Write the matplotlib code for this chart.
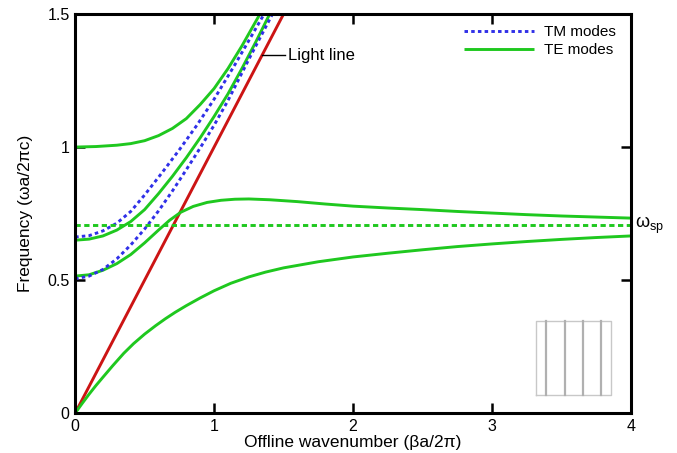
import numpy as np
import matplotlib
matplotlib.use("Agg")
import matplotlib.pyplot as plt

plt.rcParams['font.family'] = ['Liberation Sans', 'DejaVu Sans']
plt.rcParams['mathtext.fontset'] = 'custom'
plt.rcParams['mathtext.rm'] = 'Liberation Sans'
plt.rcParams['mathtext.it'] = 'Liberation Sans:italic'

# dispersion branches, beta in units of 2pi/a, omega in units of 2pi c/a
te1_b = [0, 0.15, 0.3, 0.4, 0.5, 0.6, 0.7, 0.8, 0.9, 1.0, 1.1, 1.2, 1.33]
te1_w = [1.0, 1.002, 1.007, 1.013, 1.024, 1.043, 1.07, 1.107, 1.16, 1.22, 1.295, 1.38, 1.5]

tm1_b = [0, 0.1, 0.2, 0.3, 0.4, 0.5, 0.62, 0.75, 0.88, 1.0, 1.15, 1.36]
tm1_w = [0.662, 0.667, 0.685, 0.714, 0.758, 0.82, 0.9, 0.99, 1.085, 1.18, 1.31, 1.5]

te2_b = [0, 0.1, 0.2, 0.3, 0.4, 0.5, 0.6, 0.7, 0.8, 0.9, 1.0, 1.1, 1.2, 1.3, 1.4]
te2_w = [0.650, 0.654, 0.666, 0.688, 0.72, 0.765, 0.825, 0.89, 0.96, 1.035, 1.115,
         1.2, 1.295, 1.395, 1.5]

tm2_b = [0, 0.1, 0.2, 0.3, 0.4, 0.5, 0.6, 0.7, 0.8, 0.9, 1.0, 1.1, 1.25, 1.42]
tm2_w = [0.505, 0.515, 0.54, 0.58, 0.632, 0.692, 0.76, 0.835, 0.915, 0.997, 1.082,
         1.175, 1.33, 1.5]

te3_b = [0, 0.1, 0.2, 0.3, 0.4, 0.5, 0.6, 0.68, 0.76, 0.85, 0.95, 1.05, 1.15, 1.25,
         1.4, 1.6, 1.8, 2.0, 2.25, 2.5, 2.75, 3.0, 3.25, 3.5, 3.75, 4.0]
te3_w = [0.515, 0.52, 0.537, 0.562, 0.596, 0.64, 0.688, 0.725, 0.755, 0.777, 0.792,
         0.8, 0.804, 0.805, 0.802, 0.795, 0.786, 0.778, 0.771, 0.765, 0.758, 0.752,
         0.746, 0.741, 0.737, 0.733]

te4_b = [0, 0.05, 0.1, 0.15, 0.2, 0.27, 0.35, 0.42, 0.5, 0.58, 0.65, 0.72, 0.8, 0.9,
         1.0, 1.12, 1.25, 1.37, 1.5, 1.75, 2.0, 2.25, 2.5, 2.75, 3.0, 3.25, 3.5, 3.75, 4.0]
te4_w = [0, 0.036, 0.071, 0.104, 0.135, 0.178, 0.225, 0.261, 0.297, 0.329, 0.355,
         0.379, 0.404, 0.433, 0.46, 0.488, 0.512, 0.53, 0.546, 0.569, 0.587, 0.601,
         0.614, 0.626, 0.636, 0.645, 0.653, 0.66, 0.666]

light_b = [0, 1.5]
light_w = [0, 1.5]

w_sp = 0.707
light_label_w = 1.346

green = '#1fc81f'
blue = '#3030e8'
red = '#cc1414'

fig = plt.figure(figsize=(6.77, 4.53), dpi=100)
ax = fig.add_axes([0.111, 0.088, 0.821, 0.881])

te_style = dict(color=green, lw=2.1, solid_capstyle='butt', solid_joinstyle='round')
tm_style = dict(color=blue, lw=2.1, linestyle=(0, (1.2, 1.1)))

ax.plot(light_b, light_w, color=red, lw=2.1)
ax.plot(te4_b, te4_w, **te_style)
ax.plot(te3_b, te3_w, **te_style)
ax.plot(te2_b, te2_w, **te_style)
ax.plot(te1_b, te1_w, **te_style, label='TE modes')
ax.plot(tm2_b, tm2_w, **tm_style)
ax.plot(tm1_b, tm1_w, **tm_style, label='TM modes')
ax.axhline(w_sp, color=green, lw=2.1, linestyle=(0, (1.8, 1.2)))

# light line callout
ax.plot([light_label_w, 1.51], [light_label_w, light_label_w], color='black', lw=1)
ax.text(1.53, light_label_w, 'Light line', fontsize=12, va='center', ha='left')

# surface plasmon frequency marker on the right
ax.text(1.008, w_sp, r'$\mathrm{\omega}_{\mathrm{sp}}$', fontsize=13,
        transform=ax.get_yaxis_transform(), va='center', ha='left')

handles, labels = ax.get_legend_handles_labels()
ax.legend(handles[::-1], labels[::-1], loc='upper right', bbox_to_anchor=(0.972, 0.972),
          frameon=False, fontsize=11, handlelength=4.6, handletextpad=0.6,
          labelspacing=0.25, borderpad=0, borderaxespad=0)

ax.set_xlim(0, 4)
ax.set_ylim(0, 1.5)
ax.set_xticks([0, 1, 2, 3, 4])
ax.set_yticks([0, 0.5, 1, 1.5])
ax.set_xticklabels(['0', '1', '2', '3', '4'])
ax.set_yticklabels(['0', '0.5', '1', '1.5'])
ax.tick_params(direction='in', length=7, width=1.8, labelsize=11.5, pad=4,
               top=True, right=True)
for s in ax.spines.values():
    s.set_linewidth(2.2)
ax.set_xlabel('Offline wavenumber (βa/2π)', fontsize=12.5, labelpad=1)
ax.set_ylabel('Frequency (ωa/2πc)', fontsize=12.5, labelpad=10)

# small sketch of the layered structure
ins = fig.add_axes([0.792, 0.128, 0.111, 0.163])
ins.set_xlim(0, 1)
ins.set_ylim(0, 1)
ins.axis('off')
ins.plot([0, 1, 1, 0, 0], [0, 0, 1, 1, 0], color='#c8c8c8', lw=1, clip_on=False)
for xp in [0.133, 0.377, 0.622, 0.867]:
    ins.plot([xp, xp], [0, 1], color='#b0b0b0', lw=1.6, clip_on=False)

fig.savefig('out.png', dpi=100)
